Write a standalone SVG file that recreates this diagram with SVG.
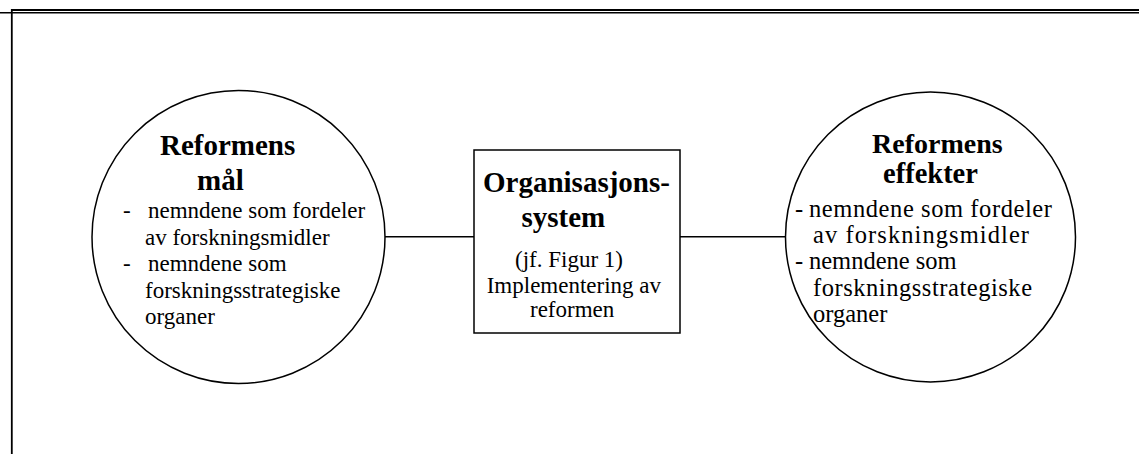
<svg xmlns="http://www.w3.org/2000/svg" width="1139" height="454" viewBox="0 0 1139 454">
<style>
.shape{fill:#fff;stroke:#000;stroke-width:1.5}
.conn{stroke:#000;stroke-width:1.5;fill:none}
.frame{stroke:#000;fill:none}
.b{font-family:"Liberation Serif","Times New Roman",serif;font-weight:bold;font-size:29px;fill:#000}
.r{font-family:"Liberation Serif","Times New Roman",serif;font-size:23px;fill:#000}
.r2{font-family:"Liberation Serif","Times New Roman",serif;font-size:24.5px;fill:#000}
.b2{font-family:"Liberation Serif","Times New Roman",serif;font-weight:bold;font-size:28px;fill:#000}
</style>
<rect width="1139" height="454" fill="#fff"/>
<g id="frame">
<line class="frame" x1="11" y1="10" x2="1139" y2="10" stroke-width="2"/>
<line class="frame" x1="0" y1="12.8" x2="1139" y2="12.8" stroke-width="1.4"/>
<line class="frame" x1="11.8" y1="9" x2="11.8" y2="454" stroke-width="1.8"/>
</g>
<g id="connectors">
<line class="conn" x1="385" y1="236.7" x2="474" y2="236.7"/>
<line class="conn" x1="680" y1="236.7" x2="786" y2="236.7"/>
</g>
<g id="node-maal">
<circle class="shape" cx="238.5" cy="237" r="146.5"/>
<text class="b" x="160" y="155">Reformens</text>
<text class="b" x="197" y="190">mål</text>
<text class="r" x="123" y="218">-</text>
<text class="r" x="148" y="218">nemndene som fordeler</text>
<text class="r" x="145" y="244.5">av forskningsmidler</text>
<text class="r" x="123" y="271">-</text>
<text class="r" x="148" y="271">nemndene som</text>
<text class="r" x="145" y="297.5">forskningsstrategiske</text>
<text class="r" x="145" y="324">organer</text>
</g>
<g id="node-system">
<rect class="shape" x="474" y="150" width="206" height="183"/>
<text class="b" x="483" y="192">Organisasjons-</text>
<text class="b" x="521.5" y="226.7">system</text>
<text class="r" x="515" y="267.3">(jf. Figur 1)</text>
<text class="r" x="486.7" y="292.7">Implementering av</text>
<text class="r" x="530" y="317.3">reformen</text>
</g>
<g id="node-effekter">
<circle class="shape" cx="930.5" cy="237" r="145"/>
<text class="b2" x="872" y="153">Reformens</text>
<text class="b2" x="883" y="182.5" style="font-size:28.5px">effekter</text>
<text class="r2" x="795" y="216.5">-</text>
<text class="r2" x="809" y="216.5" textLength="243" lengthAdjust="spacing">nemndene som fordeler</text>
<text class="r2" x="813" y="242.9" textLength="216" lengthAdjust="spacing">av forskningsmidler</text>
<text class="r2" x="795" y="269.3">-</text>
<text class="r2" x="809" y="269.3">nemndene som</text>
<text class="r2" x="813" y="295.7" textLength="219" lengthAdjust="spacing">forskningsstrategiske</text>
<text class="r2" x="813" y="322.1">organer</text>
</g>
</svg>
